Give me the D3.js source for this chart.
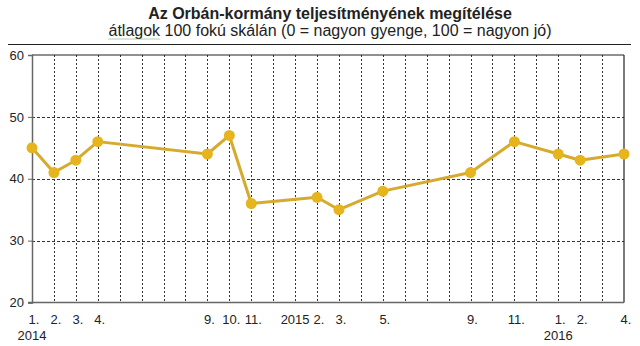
<!DOCTYPE html>
<html>
<head>
<meta charset="utf-8">
<script src="https://cdn.jsdelivr.net/npm/d3@7"></script>
<style>
  html, body { margin: 0; padding: 0; background: #fff; }
  svg { display: block; }
  text { font-family: "Liberation Sans", Arial, sans-serif; fill: #222; }
</style>
</head>
<body>
<svg id="chart" width="640" height="346"></svg>
<script>
// Survey periods (year-month) and average ratings on a 0-100 scale
const periods = ["2014-01","2014-02","2014-03","2014-04","2014-09","2014-10","2014-11",
                 "2015-02","2015-03","2015-05","2015-09","2015-11",
                 "2016-01","2016-02","2016-04"];
const ratings = [45, 41, 43, 46, 44, 47, 36, 37, 35, 38, 41, 46, 44, 43, 44];

// x-axis labels: first row (month / year) and second row (year)
const tickPeriods = ["2014-01","2014-02","2014-03","2014-04","2014-09","2014-10","2014-11",
                     "2015-01","2015-02","2015-03","2015-05","2015-09","2015-11",
                     "2016-01","2016-02","2016-04"];
const tickLabels  = ["1.","2.","3.","4.","9.","10.","11.","2015","2.","3.","5.","9.","11.","1.","2.","4."];
const yearPeriods = ["2014-01","2016-01"];
const yearLabels  = ["2014","2016"];
const yTicks = [20, 30, 40, 50, 60];

const title = "Az Orbán-kormány teljesítményének megítélése";
const subtitleWord = "átlagok";
const subtitleRest = " 100 fokú skálán (0 = nagyon gyenge, 100 = nagyon jó)";

const startPeriod = "2014-01", endPeriod = "2016-04";
const monthIndex = p => {
  const [yr, m] = p.split("-").map(Number);
  return yr * 12 + (m - 1);
};

const svg = d3.select("#chart");
const plotLeft = 32, plotRight = 624, plotTop = 55, plotBottom = 302.5;
const titleX = 330;

const x = d3.scaleLinear()
  .domain([monthIndex(startPeriod), monthIndex(endPeriod)])
  .range([plotLeft, plotRight]);
const y = d3.scaleLinear().domain([20, 60]).range([plotBottom, plotTop]);

// Title block
svg.append("text").attr("x", titleX).attr("y", 19).attr("text-anchor", "middle")
  .style("font-size", "16px").style("font-weight", "bold").text(title);
const sub = svg.append("text").attr("x", titleX).attr("y", 36).attr("text-anchor", "middle")
  .style("font-size", "16px");
const word = sub.append("tspan").text(subtitleWord);
sub.append("tspan").text(subtitleRest);
// dotted underline under the first word of the subtitle
const subBox = sub.node().getBBox();
const wordLen = word.node().getComputedTextLength();
svg.append("line")
  .attr("x1", subBox.x).attr("x2", subBox.x + wordLen)
  .attr("y1", 39).attr("y2", 39)
  .attr("stroke", "#5aa05a").attr("stroke-width", 1).attr("stroke-dasharray", "1,1");

svg.append("line").attr("x1", 8).attr("x2", 631).attr("y1", 44.5).attr("y2", 44.5)
  .attr("stroke", "#222").attr("stroke-width", 1.2);

// Vertical dotted gridlines at each month
const months = d3.range(monthIndex(startPeriod) + 1, monthIndex(endPeriod));
svg.append("g").selectAll("line").data(months).join("line")
  .attr("x1", d => Math.round(x(d)) + 0.5).attr("x2", d => Math.round(x(d)) + 0.5)
  .attr("y1", plotTop).attr("y2", plotBottom)
  .attr("stroke", "#333").attr("stroke-width", 1).attr("stroke-dasharray", "2,2");

// Horizontal dotted gridlines
svg.append("g").selectAll("line").data(yTicks.filter(v => v > 20 && v < 60)).join("line")
  .attr("x1", plotLeft).attr("x2", plotRight)
  .attr("y1", d => Math.round(y(d)) + 0.5).attr("y2", d => Math.round(y(d)) + 0.5)
  .attr("stroke", "#333").attr("stroke-width", 1).attr("stroke-dasharray", "3,2");

// Frame: top and right dark, left and bottom axes gray
svg.append("line").attr("x1", plotLeft).attr("x2", plotRight).attr("y1", plotTop).attr("y2", plotTop)
  .attr("stroke", "#222").attr("stroke-width", 1.2);
svg.append("line").attr("x1", plotRight).attr("x2", plotRight).attr("y1", plotTop).attr("y2", plotBottom)
  .attr("stroke", "#222").attr("stroke-width", 1.2);

// y axis
const yAxis = d3.axisLeft(y).tickValues(yTicks).tickSize(4).tickPadding(4);
const gy = svg.append("g").attr("transform", `translate(${plotLeft},0)`).call(yAxis);
gy.select(".domain").attr("stroke", "#666").attr("stroke-width", 1.5);
gy.selectAll(".tick line").attr("stroke", "#666");
gy.selectAll(".tick text").style("font-size", "13px").style("font-family", "Liberation Sans, Arial, sans-serif").attr("fill", "#222");

// x axis baseline
svg.append("line").attr("x1", plotLeft - 4).attr("x2", plotRight).attr("y1", plotBottom).attr("y2", plotBottom)
  .attr("stroke", "#666").attr("stroke-width", 1.5);

// x labels
svg.append("g").selectAll("text").data(tickPeriods).join("text")
  .attr("x", (d, i) => x(monthIndex(d)) + (tickLabels[i].endsWith(".") ? 2 : 0))
  .attr("y", 324).attr("text-anchor", "middle").style("font-size", "13px")
  .text((d, i) => tickLabels[i]);
svg.append("g").selectAll("text").data(yearPeriods).join("text")
  .attr("x", d => x(monthIndex(d)))
  .attr("y", 340).attr("text-anchor", "middle").style("font-size", "13px")
  .text((d, i) => yearLabels[i]);

// Series line and markers
const pts = periods.map((p, i) => [x(monthIndex(p)), y(ratings[i])]);
svg.append("path").datum(pts)
  .attr("d", d3.line())
  .attr("fill", "none").attr("stroke", "#d6aa2c").attr("stroke-width", 3)
  .attr("stroke-linejoin", "round");
svg.append("g").selectAll("circle").data(pts).join("circle")
  .attr("cx", d => d[0]).attr("cy", d => d[1]).attr("r", 5.5)
  .attr("fill", "#e6b51e");
</script>
</body>
</html>
